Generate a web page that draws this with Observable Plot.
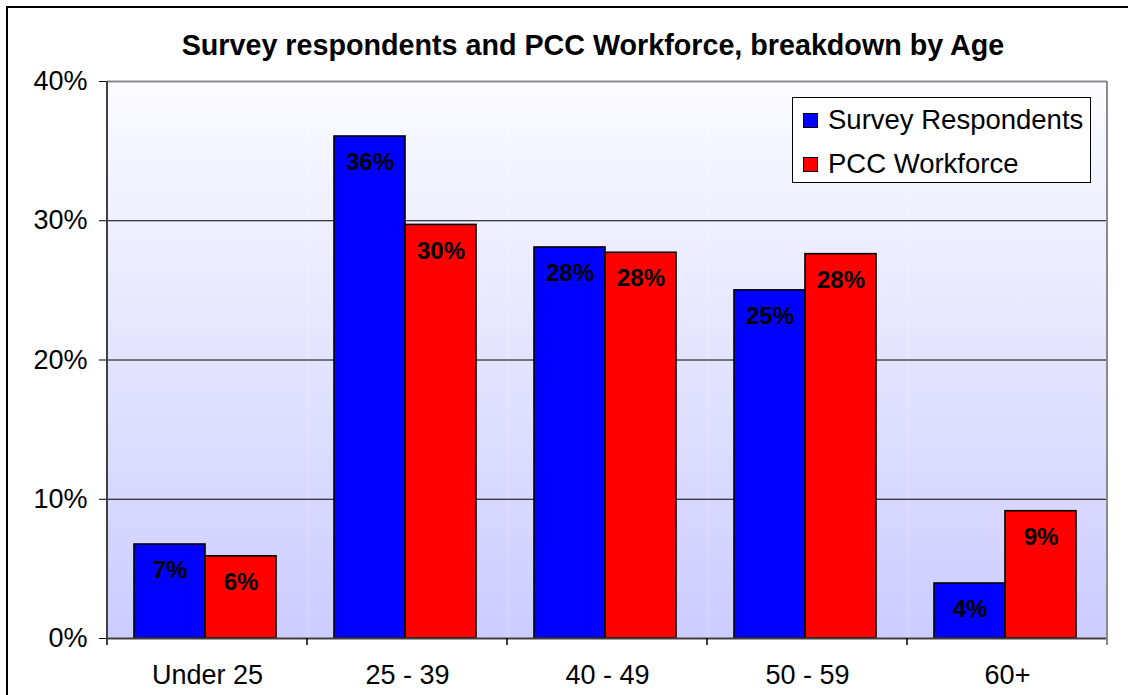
<!DOCTYPE html>
<html><head><meta charset="utf-8">
<script src="https://cdn.jsdelivr.net/npm/d3@7"></script>
<script src="https://cdn.jsdelivr.net/npm/@observablehq/plot@0.6"></script>
<style>
body{margin:0;background:#fff;font-family:"Liberation Sans",Arial,sans-serif;}
#wrap{position:relative;width:1128px;height:695px;overflow:hidden;}
#frame{position:absolute;left:6px;top:6px;width:1200px;height:800px;border-top:2px solid #000;border-left:2px solid #000;pointer-events:none;}
#title{position:absolute;left:29px;width:1128px;top:26px;text-align:center;font-weight:bold;font-size:28.7px;line-height:38px;white-space:nowrap;}
#legend{position:absolute;left:792px;top:97px;width:297px;height:84px;border:1px solid #000;background:#fff;}
.item{position:absolute;left:10px;height:30px;display:flex;align-items:center;font-size:27.5px;}
.sw{width:13px;height:13px;border:1px solid #000;margin-right:10px;}
#chart{position:absolute;left:0;top:0;}
</style></head>
<body>
<div id="wrap">
  <div id="chart"></div>
  <div id="frame"></div>
  <div id="title"></div>
  <div id="legend"></div>
</div>
<script>
const titleText = "Survey respondents and PCC Workforce, breakdown by Age";
const ages = ["Under 25", "25 - 39", "40 - 49", "50 - 59", "60+"];
const series = ["Survey Respondents", "PCC Workforce"];
const surveyValues = [0.0675, 0.3605, 0.2808, 0.250, 0.0395];
const workforceValues = [0.059, 0.297, 0.277, 0.276, 0.0914];
const seriesColors = ["#0000ff", "#ff0000"];
const yTicks = [0, 0.1, 0.2, 0.3, 0.4];

const data = ages.flatMap((a, i) => [
  {age: a, series: series[0], value: surveyValues[i]},
  {age: a, series: series[1], value: workforceValues[i]}
]);
const pct = v => Math.round(v * 100) + "%";

document.getElementById("title").textContent = titleText;
const legend = document.getElementById("legend");
series.forEach((s, i) => {
  const it = document.createElement("div");
  it.className = "item";
  it.style.top = (7 + i * 44) + "px";
  const sw = document.createElement("div");
  sw.className = "sw";
  sw.style.background = seriesColors[i];
  const tx = document.createElement("span");
  tx.textContent = s;
  it.appendChild(sw); it.appendChild(tx);
  legend.appendChild(it);
});

const plot = Plot.plot({
  width: 1128, height: 695,
  marginLeft: 105, marginRight: 20, marginTop: 81, marginBottom: 57,
  style: {fontFamily: "Liberation Sans, Arial, sans-serif", fontSize: "27px", background: "transparent", color: "#000", overflow: "visible"},
  fx: {domain: ages, padding: 0, label: null, axis: "bottom", tickSize: 0, tickPadding: 26},
  x: {domain: series, paddingInner: 0, paddingOuter: 0.393, align: 0.46, axis: null},
  y: {domain: [0, 0.4], ticks: yTicks, tickFormat: pct, label: null, tickSize: 8, tickPadding: 12},
  color: {domain: series, range: seriesColors},
  marks: [
    Plot.frame({fill: "url(#bg)"}),
    Plot.ruleY(yTicks.slice(1, 4), {stroke: "#000", strokeWidth: 1}),
    Plot.ruleY([0.4], {stroke: "#8a8a8a", strokeWidth: 2}),
    Plot.barY(data, {fx: "age", x: "series", y: "value", fill: "series", stroke: "#000", strokeWidth: 1.6}),
    Plot.text(data, {fx: "age", x: "series", y: "value", text: d => pct(d.value), dy: 26, fontWeight: "bold", fontSize: 24, fill: "#000"}),
    Plot.ruleY([0], {stroke: "#404040", strokeWidth: 2})
  ]
});
document.getElementById("chart").appendChild(plot);

const svg = d3.select(plot.tagName.toLowerCase() === "svg" ? plot : plot.querySelector("svg"));
const grad = svg.insert("defs", ":first-child").append("linearGradient")
  .attr("id", "bg").attr("x1", 0).attr("y1", 0).attr("x2", 0).attr("y2", 1);
grad.append("stop").attr("offset", "0%").attr("stop-color", "#fbfbff");
grad.append("stop").attr("offset", "100%").attr("stop-color", "#ccccff");

const fx = plot.scale("fx"), y = plot.scale("y");
const y0 = y.apply(0), yTop = y.apply(0.4);
const edges = ages.map(a => fx.apply(a)).concat([fx.apply(ages[ages.length - 1]) + fx.bandwidth]);
const g = svg.append("g");
g.append("line").attr("x1", edges[edges.length - 1]).attr("x2", edges[edges.length - 1])
  .attr("y1", yTop).attr("y2", y0 + 7).attr("stroke", "#8a8a8a").attr("stroke-width", 2);
g.append("line").attr("x1", edges[0]).attr("x2", edges[0])
  .attr("y1", yTop).attr("y2", y0 + 7).attr("stroke", "#404040").attr("stroke-width", 2);
edges.slice(1, -1).forEach(e => {
  g.append("line").attr("x1", e).attr("x2", e).attr("y1", y0).attr("y2", y0 + 7)
    .attr("stroke", "#000").attr("stroke-width", 1.5);
});
</script>
</body></html>
